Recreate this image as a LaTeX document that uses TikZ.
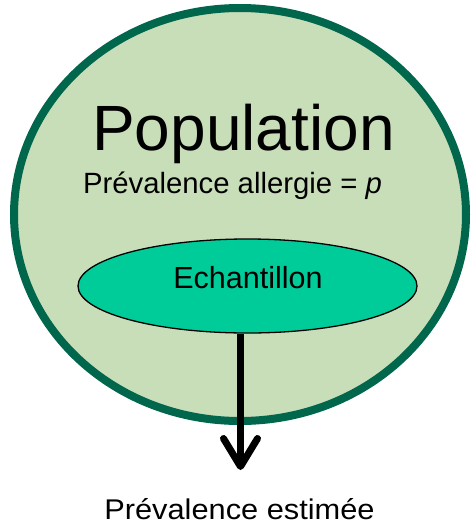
\documentclass[tikz,border=0pt]{standalone}
\usepackage{fontspec}
\setmainfont{Liberation Sans}
\usetikzlibrary{shapes.geometric,arrows.meta}
\definecolor{popfill}{RGB}{200,222,185}
\definecolor{popline}{RGB}{0,102,76}
\definecolor{sampfill}{RGB}{0,204,153}
\tikzset{
  popstyle/.style={ellipse, draw=popline, fill=popfill, line width=8pt, minimum width=452pt, minimum height=413pt, inner sep=0pt},
  sampstyle/.style={ellipse, draw=black, fill=sampfill, line width=1.3pt, minimum width=339pt, minimum height=94pt, inner sep=0pt},
  lbl/.style={anchor=base, inner sep=0pt, text=black},
  flow/.style={line width=7pt, -{Straight Barb[length=28pt, width=34pt, line cap=round, line join=round]}}
}
\begin{document}
\begin{tikzpicture}[x=1pt, y=-1pt]
\useasboundingbox (0,0) rectangle (475,528);
\node[popstyle] (pop) at (240,214.5) {};
\node[lbl, font=\fontsize{64}{70}\selectfont] (title) at (243.5,150) {Population};
\node[lbl, font=\fontsize{29.3}{32}\selectfont] (prev) at (232.5,193) {Prévalence allergie = \textit{p}};
\node[sampstyle] (samp) at (247.5,286) {};
\node[lbl, font=\fontsize{30.5}{34}\selectfont] (samptxt) at (248,288) {Echantillon};
\coordinate (tip) at (240.5,470);
\draw[flow] (samp.south -| tip) -- (tip);
\node[lbl, font=\fontsize{28.5}{30}\selectfont] (est) at (239.5,519) {\scalebox{1.08}[1]{Prévalence estimée}};
\end{tikzpicture}
\end{document}
